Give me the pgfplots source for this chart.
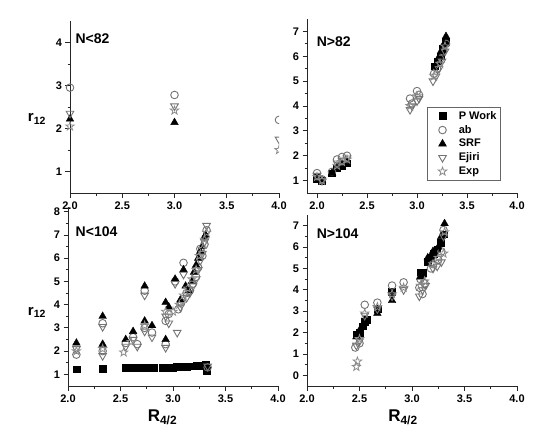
\documentclass[border=0pt]{standalone}
\usepackage{pgfplots}
\pgfplotsset{compat=1.18}
\usepackage{fontspec}
\setmainfont{Liberation Sans}

% open five-point star
\pgfdeclareplotmark{ostar}{%
  \pgfpathmoveto{\pgfpointpolar{90}{\pgfplotmarksize}}%
  \pgfpathlineto{\pgfpointpolar{126}{0.4\pgfplotmarksize}}%
  \pgfpathlineto{\pgfpointpolar{162}{\pgfplotmarksize}}%
  \pgfpathlineto{\pgfpointpolar{198}{0.4\pgfplotmarksize}}%
  \pgfpathlineto{\pgfpointpolar{234}{\pgfplotmarksize}}%
  \pgfpathlineto{\pgfpointpolar{270}{0.4\pgfplotmarksize}}%
  \pgfpathlineto{\pgfpointpolar{306}{\pgfplotmarksize}}%
  \pgfpathlineto{\pgfpointpolar{342}{0.4\pgfplotmarksize}}%
  \pgfpathlineto{\pgfpointpolar{18}{\pgfplotmarksize}}%
  \pgfpathlineto{\pgfpointpolar{54}{0.4\pgfplotmarksize}}%
  \pgfpathclose
  \pgfusepathqstroke
}

\tikzset{
  lab/.style={font=\bfseries\fontsize{14}{15}\selectfont, anchor=west},
  xlab/.style={font=\bfseries\fontsize{17}{18}\selectfont},
}

\pgfplotsset{
  panel/.style={
    scale only axis, anchor=south west,
    width=210pt,
    clip mode=individual,
    axis x line*=bottom, axis y line*=left,
    x axis line style={-}, y axis line style={-},
    axis line style={line width=0.9pt, black!85},
    tick align=outside,
    major tick length=4.5pt, minor tick length=2.5pt,
    every tick/.style={line width=0.8pt, black!85},
    xmax=4.0,
    xtick={2.0,2.5,3.0,3.5,4.0},
    minor x tick num=1, minor y tick num=1,
    xticklabel style={/pgf/number format/fixed, /pgf/number format/fixed zerofill,
      /pgf/number format/precision=1, yshift=-1pt},
    tick label style={font=\bfseries\fontsize{11}{12}\selectfont,
      /pgf/number format/assume math mode=true},
    ylabel style={font=\bfseries\fontsize{15}{16}\selectfont, rotate=-90, anchor=center},
  },
  pw/.style={only marks, mark=square*, mark size=3.4pt, black},
  ab/.style={only marks, mark=o, mark size=3.8pt, black!55, mark options={line width=0.9pt}},
  srf/.style={only marks, mark=triangle*, mark size=4.4pt, black},
  ej/.style={only marks, mark=triangle, mark size=4.4pt, black!55, mark options={rotate=180, line width=0.9pt}},
  ex/.style={only marks, mark=ostar, mark size=4.4pt, black!45, mark options={line width=0.8pt}},
}

\begin{document}
\begin{tikzpicture}
\useasboundingbox (0,0) rectangle (535pt,-428pt);

% ---------- top left: N<82 ----------
\begin{axis}[panel, at={(70pt,-193pt)}, width=209pt, height=172pt,
  xmin=2.0, ymin=0.5, ymax=4.5, ytick={1,2,3,4},
  ylabel={r\textsubscript{12}}, ylabel style={at={(axis description cs:-0.158,0.43)}}]
\addplot[ab] coordinates {(2.0,2.95)(3.0,2.78)};
\addplot[srf] coordinates {(2.0,2.22)(3.0,2.14)};
\addplot[ej] coordinates {(2.0,2.35)(3.0,2.52)};
\addplot[ex] coordinates {(2.0,2.05)(3.0,2.42)};
% points on the right edge, half cut by the axis
\addplot[ab, clip marker paths=true] coordinates {(4.0,2.2)};
\addplot[ej, clip marker paths=true] coordinates {(4.0,1.75)};
\addplot[ex, clip marker paths=true] coordinates {(4.0,1.5)};
\node[lab] at (rel axis cs:0.01,0.9) {N<82};
\end{axis}

% ---------- top right: N>82 ----------
\begin{axis}[panel, at={(307pt,-193pt)}, height=174pt,
  xmin=1.9, ymin=0.5, ymax=7.5, ytick={1,2,3,4,5,6,7},
  legend style={at={(0.571,0.494)}, anchor=north west, draw=black!60, line width=0.6pt,
    font=\bfseries\fontsize{11}{12}\selectfont, row sep=2.5pt, inner xsep=3pt, inner ysep=3pt,
    nodes={inner sep=1pt}, cells={anchor=west}},
  legend image code/.code={\path (0pt,0pt) (27pt,0pt); \draw[#1] plot coordinates {(12pt,0pt)};}]
\addplot[pw] coordinates {(2.0,1.1)(2.05,1.0)(2.15,1.3)(2.2,1.5)(2.25,1.6)(2.3,1.7)
  (3.18,5.6)(3.21,5.8)(3.24,6.0)(3.26,6.3)(3.29,6.6)};
\addplot[ab] coordinates {(2.0,1.3)(2.05,1.05)(2.15,1.35)(2.2,1.85)(2.25,1.95)(2.3,2.0)
  (2.93,4.3)(2.95,4.1)(3.0,4.6)(3.02,4.45)(3.17,5.3)(3.2,5.5)(3.23,5.9)(3.26,6.2)(3.29,6.5)};
\addplot[srf] coordinates {(2.0,1.0)(2.05,1.0)(2.15,1.3)(2.2,1.55)(2.25,1.65)(2.3,1.75)
  (3.18,5.6)(3.21,5.9)(3.24,6.2)(3.27,6.5)(3.29,6.8)};
\addplot[ej] coordinates {(2.0,1.2)(2.05,1.0)(2.2,1.7)(2.25,1.8)(2.3,1.9)
  (2.93,3.85)(2.95,4.0)(3.0,4.2)(3.02,4.3)(3.16,5.0)(3.19,5.2)(3.22,5.5)(3.25,5.8)(3.28,6.2)};
\addplot[ex] coordinates {(2.0,1.15)(2.05,1.0)(2.2,1.6)(2.25,1.75)(2.3,1.85)
  (2.93,4.0)(3.0,4.4)(3.17,5.2)(3.23,5.7)(3.28,6.4)};
\legend{P Work, ab, SRF, Ejiri, Exp}
\node[lab] at (rel axis cs:0.03,0.87) {N>82};
\end{axis}

% ---------- bottom left: N<104 ----------
\begin{axis}[panel, at={(68pt,-386pt)}, height=179pt,
  xmin=2.0, ymin=0.5, ymax=8.2, ytick={1,2,3,4,5,6,7,8},
  ylabel={r\textsubscript{12}}, ylabel style={at={(axis description cs:-0.148,0.41)}}]
\addplot[pw] coordinates {(2.08,1.22)(2.33,1.25)(2.55,1.28)(2.58,1.28)(2.62,1.28)(2.66,1.28)
  (2.7,1.28)(2.74,1.3)(2.78,1.3)(2.82,1.3)(2.9,1.3)(2.93,1.3)(2.96,1.3)(3.0,1.3)(3.03,1.32)
  (3.06,1.32)(3.1,1.33)(3.13,1.33)(3.16,1.35)(3.19,1.35)(3.22,1.36)(3.25,1.37)(3.28,1.38)
  (3.31,1.4)(3.32,1.15)};
\addplot[ab] coordinates {(2.08,1.85)(2.33,3.2)(2.33,2.0)(2.55,2.35)(2.62,2.6)(2.66,2.3)
  (2.73,4.6)(2.73,3.0)(2.8,2.8)(2.93,3.3)(2.93,2.3)(2.96,3.6)(3.02,5.0)(3.05,3.8)(3.08,4.1)
  (3.1,5.8)(3.13,4.5)(3.16,4.6)(3.19,4.9)(3.22,5.2)(3.24,5.6)(3.26,6.4)(3.28,6.1)(3.3,6.6)
  (3.32,7.2)(3.33,1.3)};
\addplot[srf] coordinates {(2.08,2.35)(2.33,3.5)(2.33,2.3)(2.55,2.5)(2.62,2.85)(2.73,4.8)
  (2.73,3.3)(2.8,3.1)(2.93,4.1)(2.93,2.5)(2.96,3.9)(3.02,5.1)(3.07,4.2)(3.1,5.5)(3.12,4.8)
  (3.15,4.6)(3.18,5.0)(3.2,5.4)(3.22,5.7)(3.24,6.0)(3.26,6.3)(3.28,6.5)(3.3,6.9)(3.31,7.0)};
\addplot[ej] coordinates {(2.08,2.1)(2.33,3.05)(2.33,1.8)(2.55,2.2)(2.62,2.5)(2.66,2.2)
  (2.73,4.4)(2.73,2.85)(2.8,2.6)(2.93,3.5)(2.93,2.15)(2.96,3.2)(3.02,4.9)(3.04,2.8)(3.07,3.9)
  (3.1,5.3)(3.13,4.3)(3.16,4.5)(3.19,4.8)(3.22,5.1)(3.24,5.5)(3.26,5.9)(3.28,6.2)(3.3,6.7)
  (3.32,7.4)(3.33,1.35)};
\addplot[ex] coordinates {(2.08,2.0)(2.33,2.1)(2.53,1.95)(2.6,2.4)(2.73,3.1)(2.93,3.7)
  (3.0,3.7)(3.06,4.0)(3.1,4.4)(3.14,4.7)(3.18,5.1)(3.22,5.5)(3.25,6.1)(3.28,6.4)(3.3,6.8)(3.32,7.1)};
\node[lab] at (rel axis cs:0.02,0.86) {N<104};
\node[xlab] at (axis description cs:0.45,0) [yshift=-31pt] {R\textsubscript{4/2}};
\end{axis}

% ---------- bottom right: N>104 ----------
\begin{axis}[panel, at={(307pt,-386pt)}, height=171pt,
  xmin=2.0, ymin=-0.5, ymax=7.5, ytick={0,1,2,3,4,5,6,7}]
\addplot[pw] coordinates {(2.47,1.9)(2.5,2.0)(2.53,2.3)(2.55,2.5)(2.57,2.6)(2.67,3.1)(2.81,3.9)
  (3.08,4.8)(3.1,4.8)(3.15,5.3)(3.18,5.5)(3.21,5.7)(3.24,5.9)(3.27,6.2)(3.3,6.6)};
\addplot[ab] coordinates {(2.46,1.3)(2.5,1.5)(2.55,3.3)(2.67,3.4)(2.81,4.2)(2.92,4.35)(3.07,4.1)
  (3.08,4.5)(3.1,3.8)(3.12,4.3)(3.18,5.0)(3.2,5.2)(3.25,5.4)(3.28,5.8)(3.3,6.8)};
\addplot[srf] coordinates {(2.47,1.8)(2.5,2.1)(2.55,2.5)(2.67,2.9)(2.81,3.5)(3.08,4.6)(3.1,4.7)
  (3.15,5.5)(3.2,5.8)(3.25,6.0)(3.28,6.5)(3.31,7.1)};
\addplot[ej] coordinates {(2.47,1.4)(2.5,1.6)(2.55,2.8)(2.67,3.1)(2.81,3.7)(2.92,4.0)(3.07,3.7)
  (3.1,4.0)(3.13,4.2)(3.2,5.0)(3.24,5.1)(3.28,5.3)(3.3,6.5)};
\addplot[ex] coordinates {(2.47,0.4)(2.48,0.65)(2.5,1.7)(2.55,2.9)(2.67,3.2)(2.81,3.8)(2.92,4.1)
  (3.08,4.2)(3.12,4.4)(3.2,5.2)(3.25,5.5)(3.3,5.7)(3.31,6.7)};
\node[lab] at (rel axis cs:0.03,0.89) {N>104};
\node[xlab] at (axis description cs:0.457,0) [yshift=-31pt] {R\textsubscript{4/2}};
\end{axis}
\end{tikzpicture}
\end{document}
